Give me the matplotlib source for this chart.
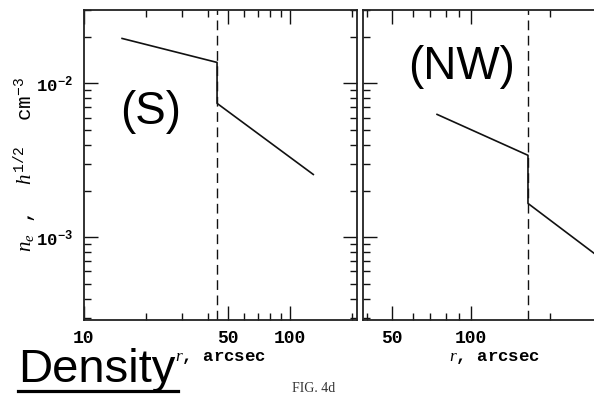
import matplotlib
matplotlib.use("Agg")
import matplotlib.pyplot as plt
from matplotlib.ticker import FixedLocator, NullFormatter, LogFormatterMathtext
from matplotlib.lines import Line2D

plt.rcParams["font.family"] = ["Liberation Mono", "DejaVu Sans"]
plt.rcParams["mathtext.fontset"] = "custom"
plt.rcParams["mathtext.rm"] = "Liberation Mono"
plt.rcParams["mathtext.bf"] = "Liberation Mono:bold"
plt.rcParams["mathtext.it"] = "Liberation Serif:italic"

# Electron density profiles across the two shock fronts
s_r = [15.3, 44.2, 44.2, 129.5]
s_n = [0.0196, 0.01369, 0.00742, 0.00256]
s_jump = 44.2

nw_r = [74.2, 165, 165, 300]
nw_n = [0.00629, 0.00341, 0.00166, 0.00077]
nw_jump = 165

s_major = [10, 50, 100]
s_minor = [20, 30, 40, 60, 70, 80, 90, 200]
nw_major = [50, 100]
nw_minor = [40, 60, 70, 80, 90, 200, 300]
y_major = [1e-3, 1e-2]
y_minor = [m * 10.0 ** e for e in (-4, -3, -2) for m in range(2, 10)]

W, H = 594, 396
fig = plt.figure(figsize=(W / 100, H / 100), dpi=100)


def px_axes(x0, x1, y_top, y_bot):
    return fig.add_axes([x0 / W, 1 - y_bot / H, (x1 - x0) / W, (y_bot - y_top) / H])


ax_s = px_axes(84, 357, 10, 320)
ax_nw = px_axes(363, 627, 10, 320)


def style(ax, xlim, major, minor, show_y):
    ax.set_xscale("log")
    ax.set_yscale("log")
    ax.set_xlim(*xlim)
    ax.set_ylim(2.9e-4, 3.0e-2)
    ax.xaxis.set_major_locator(FixedLocator(major))
    ax.xaxis.set_minor_locator(FixedLocator(minor))
    ax.set_xticklabels([str(v) for v in major], fontweight="bold")
    ax.xaxis.set_minor_formatter(NullFormatter())
    ax.yaxis.set_major_locator(FixedLocator(y_major))
    ax.yaxis.set_minor_locator(FixedLocator(y_minor))
    ax.yaxis.set_minor_formatter(NullFormatter())
    if show_y:
        ax.yaxis.set_major_formatter(LogFormatterMathtext())
    else:
        ax.yaxis.set_major_formatter(NullFormatter())
    ax.tick_params(which="both", direction="in", top=True, right=True, width=1.0, color="#111111")
    ax.tick_params(which="major", length=10)
    ax.tick_params(which="minor", length=5)
    ax.tick_params(axis="x", which="major", labelsize=13, pad=7)
    ax.tick_params(axis="y", which="major", labelsize=12.5, pad=8)
    for lbl in ax.get_yticklabels():
        lbl.set_fontweight("bold")
    for sp in ax.spines.values():
        sp.set_linewidth(1.3)
        sp.set_color("#222222")
    ax.set_xlabel(r"$r$, arcsec", fontsize=12.5, labelpad=2, fontweight="bold")


style(ax_s, (10, 211), s_major, s_minor, True)
style(ax_nw, (38.7, 394), nw_major, nw_minor, False)

for ax, rr, nn, jump in ((ax_s, s_r, s_n, s_jump), (ax_nw, nw_r, nw_n, nw_jump)):
    ax.axvline(jump, color="#111111", lw=1.0, ls=(0, (7, 4)))
    ax.plot(rr, nn, color="#111111", lw=1.2)

fig.text(25 / W, 1 - 164 / H, r"$n_e$ ,  $h^{1/2}$  cm$^{-3}$", rotation=90,
         ha="center", va="center", fontsize=15)

fig.text(151 / W, 1 - 112 / H, "(S)", family="Liberation Sans", fontsize=33,
         ha="center", va="center")
fig.text(462 / W, 1 - 67 / H, "(NW)", family="Liberation Sans", fontsize=33,
         ha="center", va="center")

fig.text(18 / W, 1 - 382 / H, "Density", family="Liberation Sans", fontsize=34,
         ha="left", va="baseline")
fig.add_artist(Line2D([18 / W, 178 / W], [1 - 391 / H, 1 - 391 / H],
                      color="black", lw=2.3, transform=fig.transFigure))

fig.text(292 / W, 1 - 395.5 / H, "FIG. 4d", family="Liberation Serif", fontsize=10,
         color="#333333", ha="left", va="bottom")

fig.savefig("out.png", dpi=100)
